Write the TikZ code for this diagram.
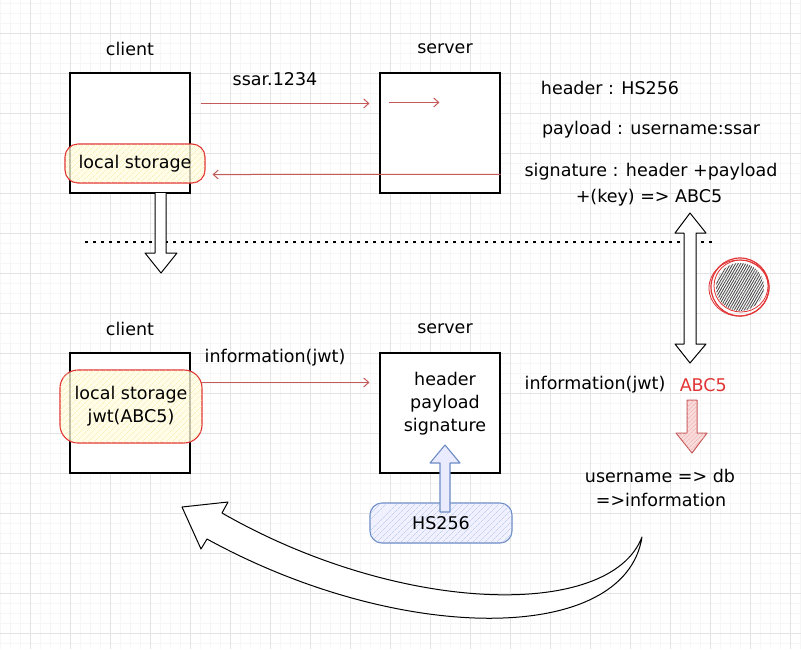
\documentclass[tikz,border=0pt]{standalone}
\usepackage{fontspec}
\setmainfont{DejaVu Sans}
\usetikzlibrary{arrows.meta,patterns.meta,positioning}

\definecolor{sketchred}{RGB}{226,52,52}
\definecolor{arrowred}{RGB}{196,90,90}
\definecolor{sketchblue}{RGB}{108,140,198}
\definecolor{hatchyellow}{RGB}{240,228,140}
\definecolor{hatchblue}{RGB}{170,195,235}
\definecolor{hatchred}{RGB}{240,170,170}

\tikzset{
  lbl/.style={font=\fontsize{17.5}{23}\selectfont, inner sep=0pt, align=center},
  sysbox/.style={draw, fill=white, line width=1.1pt, minimum width=120pt, minimum height=120pt, inner sep=0pt},
  storebox/.style={draw=sketchred, line width=1.1pt, rounded corners=13pt, inner sep=0pt,
    font=\fontsize{17.5}{23}\selectfont, align=center,
    fill=yellow!12, fill opacity=0.75, text opacity=1,
    postaction={pattern={Lines[angle=45,distance=4pt,line width=0.4pt]}, pattern color=hatchyellow}},
  redarrow/.style={draw=arrowred, line width=1pt, -{Straight Barb[length=5pt,width=9pt]}},
  fatarrow/.style={draw, line width=1pt, fill=white, line join=round},
}

\begin{document}
\begin{tikzpicture}[x=1pt,y=-1pt]
\useasboundingbox (0,0) rectangle (801,649);
% grid
\fill[white] (0,0) rectangle (801,649);
\foreach \x in {0,10,...,800} \draw[gray!7, line width=0.5pt] (\x,0) -- (\x,649);
\foreach \y in {3,13,...,643} \draw[gray!7, line width=0.5pt] (0,\y) -- (801,\y);
\foreach \x in {30,70,...,790} \draw[gray!22, line width=0.7pt] (\x,0) -- (\x,649);
\foreach \y in {33,73,...,633} \draw[gray!22, line width=0.7pt] (0,\y) -- (801,\y);

% top: login
\node[lbl] (client1) at (130,49) {client};
\node[lbl] (server1) at (445,49) {server};
\node[sysbox] (cl1) at (130,133) {};
\node[sysbox] (sv1) at (440,133) {};
\node[storebox, minimum width=140pt, minimum height=39pt] (ls1) at (135,163.5) {local storage};
\node[lbl] (ssar) at (275,79) {ssar.1234};
\draw[redarrow] ([shift={(10,31)}]cl1.north east) -- ([shift={(-10,31)}]sv1.north west);
\draw[redarrow] ([shift={(10,30)}]sv1.north west) -- ++(50,0);
\draw[redarrow] ([shift={(0,102)}]sv1.north east) -- ([shift={(7,11)}]ls1.east);

\node[lbl] (hdr) at (610,88) {header : HS256};
\node[lbl] (pay) at (651,130) {payload : username:ssar};
\node[lbl] (sig) at (651,172) {signature : header +payload};
\node[lbl] (key) at (649,198) {+(key) => ABC5};

% separator
\draw[line width=2.5pt, dash pattern=on 3pt off 5pt] (85,242) -- (712,242);

% hollow arrows
\draw[fatarrow] (155,193) -- (155,253) -- (145,253) -- (161,273) -- (177,253) -- (166,253) -- (166,193);
\draw[fatarrow] (690,213) -- (706,233) -- (696,233) -- (696,344) -- (706,344) -- (690,363)
  -- (675,344) -- (684,344) -- (684,233) -- (675,233) -- cycle;

% marker
\fill[pattern={Lines[angle=60,distance=2.2pt,line width=0.9pt]}, pattern color=gray!60!black] (740,287) circle (24);
\draw[sketchred, line width=1.2pt] (740,287) circle (29);
\draw[sketchred, line width=0.8pt] (741,286) ellipse (27 and 26);
\draw[sketchred, line width=0.8pt] (739,288) ellipse (30 and 28);

% bottom: request
\node[lbl] (client2) at (130,329) {client};
\node[lbl] (server2) at (445,329) {server};
\node[sysbox] (cl2) at (130,413) {};
\node[sysbox] (sv2) at (440,413) {};
\node[storebox, rounded corners=18pt, minimum width=142pt, minimum height=73pt] (ls2) at (131,406.5)
  {local storage\\jwt(ABC5)};
\node[lbl] (info1) at (275,358) {information(jwt)};
\draw[redarrow] ([shift={(10,30)}]cl2.north east) -- ([shift={(-10,30)}]sv2.north west);
\node[lbl] (parts) at (445,404) {header\\payload\\signature};

\node[draw=sketchblue, line width=1.1pt, rounded corners=12pt, minimum width=142pt, minimum height=40pt,
  fill=blue!6, postaction={pattern={Lines[angle=45,distance=4pt,line width=0.4pt]}, pattern color=hatchblue}]
  (hs) at (441,523) {};
\draw[draw=sketchblue, line width=1.1pt, fill=blue!8, line join=round]
  (440,512) -- (440,463) -- (430,463) -- (445,445) -- (460,463) -- (450,463) -- (450,512) -- cycle;
\node[lbl] (hslbl) at (hs) {HS256};

\node[lbl] (info2) at (595,385) {information(jwt)};
\node[lbl, text=sketchred, right=14pt of info2] (abc) {ABC5};
\draw[draw=arrowred, line width=1pt, fill=hatchred!40, line join=round,
  postaction={pattern={Lines[angle=45,distance=3pt,line width=0.4pt]}, pattern color=hatchred}]
  (687,400) -- (687,433) -- (676,433) -- (692,453) -- (707,433) -- (697,433) -- (697,400) -- cycle;
\node[lbl] (user) at (660,476) {username => db};
\node[lbl] (dbinfo) at (661,500) {=>information};

% return arrow
\draw[fatarrow] (642,537) .. controls (625,645) and (400,645) .. (207,539) -- (201,549) -- (182,507)
  -- (228,502) -- (222,513) .. controls (400,615) and (610,620) .. (642,537) -- cycle;
\end{tikzpicture}
\end{document}
